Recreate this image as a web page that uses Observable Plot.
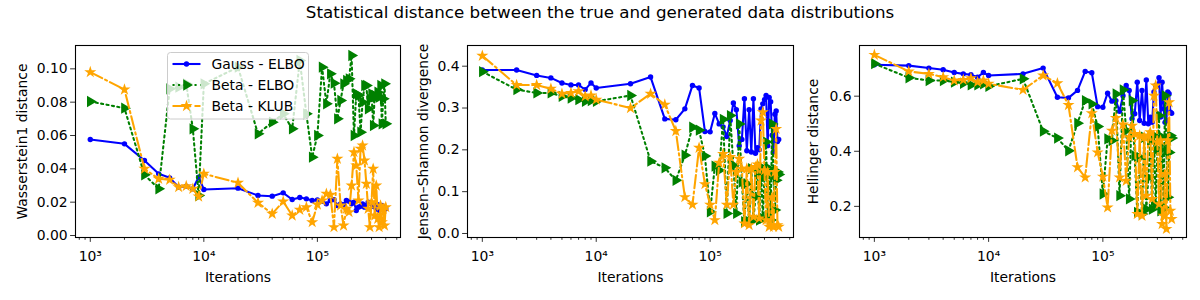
<!DOCTYPE html>
<html><head><meta charset="utf-8">
<script src="https://cdn.jsdelivr.net/npm/d3@7"></script>
<script src="https://cdn.jsdelivr.net/npm/@observablehq/plot@0.6"></script>
<style>
body{margin:0;background:#fff;}
#root{position:relative;width:1200px;height:300px;font-family:"DejaVu Sans",sans-serif;overflow:hidden;background:#fff;}
.title{position:absolute;top:0;left:0;width:1200px;text-align:center;font-size:16.7px;line-height:25px;color:#000;}
.panel{position:absolute;top:0;}
</style></head><body>
<div id="root"><div class="title">Statistical distance between the true and generated data distributions</div></div>
<script>
const title = "Statistical distance between the true and generated data distributions";
const seriesNames = ["Gauss - ELBO", "Beta - ELBO", "Beta - KLUB"];
const xLabel = "Iterations";
const yLabels = ["Wasserstein1 distance", "Jensen\u2013Shannon divergence", "Hellinger distance"];
const majorTicks = [1e3, 1e4, 1e5];
const majorTickLabels = ["10\u00b3", "10\u2074", "10\u2075"];
const yTicks1 = [0, 0.02, 0.04, 0.06, 0.08, 0.10];
const yTicks2 = [0, 0.1, 0.2, 0.3, 0.4];
const yTicks3 = [0.2, 0.4, 0.6];

const iterations = [1000,2000,3000,4000,5000,6000,7000,8000,9000,10000,
  20000,30000,40000,50000,60000,70000,80000,90000,100000,
  110000,120000,130000,140000,150000,160000,170000,180000,190000,200000,
  210000,220000,230000,240000,250000,260000,270000,280000,290000,300000,
  310000,320000,330000,340000,350000,360000,370000,380000,390000,400000];

const w1Gauss = [0.0576,0.055,0.045,0.037,0.0346,0.029,0.0296,0.028,0.035,0.0276,
  0.0284,0.024,0.0236,0.0256,0.0216,0.0228,0.022,0.021,0.0214,
  0.0205,0.019,0.021,0.0215,0.018,0.019,0.0185,0.021,0.0205,0.019,0.02,0.015,0.017,0.0175,0.019,0.017,0.018,0.02,0.0195,0.019,0.0175,0.018,0.016,0.0185,0.015,0.0175,0.018,0.016,0.017,0.016];
const w1BetaElbo = [0.0804,0.0764,0.0364,0.028,0.088,0.089,0.091,0.064,0.024,0.091,
  0.101,0.061,0.068,0.073,0.064,0.105,0.073,0.047,0.060,
  0.101,0.079,0.097,0.0914,0.070,0.081,0.091,0.093,0.094,0.108,0.060,0.085,0.084,0.062,0.080,0.090,0.090,0.076,0.082,0.085,0.066,0.084,0.083,0.086,0.083,0.090,0.067,0.082,0.091,0.067];
const w1BetaKlub = [0.098,0.0876,0.040,0.034,0.0334,0.029,0.0296,0.028,0.0234,0.037,
  0.0316,0.0196,0.013,0.0204,0.012,0.0154,0.017,0.008,0.0186,
  0.021,0.025,0.0245,0.005,0.046,0.018,0.006,0.016,0.014,0.03,0.05,0.042,0.021,0.052,0.054,0.045,0.031,0.016,0.005,0.02,0.04,0.012,0.03,0.01,0.005,0.018,0.008,0.016,0.006,0.017];

const jsGauss = [0.391,0.391,0.378,0.372,0.360,0.355,0.355,0.344,0.360,0.348,
  0.358,0.374,0.274,0.272,0.298,0.354,0.348,0.244,0.243,
  0.287,0.262,0.255,0.232,0.27,0.312,0.296,0.21,0.225,0.322,0.198,0.296,0.195,0.322,0.192,0.205,0.2,0.298,0.31,0.32,0.33,0.21,0.325,0.315,0.235,0.195,0.285,0.293,0.22,0.225];
const jsBetaElbo = [0.387,0.344,0.336,0.336,0.328,0.324,0.320,0.316,0.318,0.316,
  0.330,0.173,0.157,0.127,0.187,0.254,0.247,0.185,0.052,
  0.161,0.151,0.273,0.048,0.282,0.163,0.048,0.262,0.123,0.028,0.119,0.028,0.155,0.032,0.087,0.143,0.032,0.159,0.036,0.135,0.219,0.04,0.155,0.032,0.262,0.139,0.056,0.127,0.147,0.141];
const jsBetaKlub = [0.425,0.355,0.355,0.346,0.334,0.336,0.340,0.328,0.330,0.320,
  0.300,0.334,0.308,0.245,0.087,0.069,0.205,0.118,0.069,
  0.032,0.169,0.19,0.069,0.183,0.069,0.147,0.179,0.155,0.024,0.155,0.02,0.155,0.04,0.159,0.165,0.036,0.27,0.29,0.151,0.032,0.147,0.016,0.02,0.087,0.016,0.147,0.25,0.02,0.016];

const hGauss = [0.714,0.711,0.702,0.696,0.686,0.681,0.678,0.669,0.686,0.675,
  0.681,0.702,0.596,0.594,0.621,0.690,0.685,0.562,0.56,
  0.611,0.582,0.584,0.545,0.602,0.639,0.621,0.518,0.536,0.651,0.512,0.621,0.502,0.659,0.5,0.524,0.505,0.615,0.639,0.639,0.667,0.524,0.651,0.554,0.505,0.512,0.615,0.609,0.542,0.538];
const hBetaElbo = [0.718,0.667,0.657,0.657,0.651,0.647,0.641,0.641,0.645,0.636,
  0.663,0.473,0.448,0.402,0.502,0.584,0.572,0.49,0.245,
  0.445,0.439,0.608,0.239,0.623,0.475,0.227,0.584,0.384,0.178,0.378,0.172,0.451,0.19,0.305,0.439,0.19,0.457,0.208,0.408,0.53,0.184,0.451,0.196,0.602,0.402,0.233,0.396,0.457,0.448];
const hBetaKlub = [0.750,0.690,0.681,0.669,0.657,0.659,0.665,0.651,0.657,0.645,
  0.623,0.675,0.647,0.568,0.342,0.305,0.538,0.396,0.308,
  0.196,0.475,0.521,0.305,0.497,0.293,0.451,0.493,0.463,0.172,0.457,0.166,0.451,0.239,0.457,0.469,0.227,0.602,0.639,0.433,0.208,0.439,0.136,0.166,0.318,0.118,0.439,0.578,0.184,0.154];

const styles = [
  {color: "#0000ff", dash: null, symbol: "circle", r: 2.7, rotate: 0},
  {color: "#008000", dash: "2.1,3.4", symbol: "triangle", r: 4.2, rotate: 90},
  {color: "#ffa500", dash: "13.3,3.3,2.1,3.3", symbol: "star", r: 3.8, rotate: 0}
];

const xDomain = [741, 539500];
const minorTicks = [];
for (const dec of [100, 1000, 10000, 100000]) for (let k = 2; k <= 9; k++) {
  const v = k * dec; if (v > xDomain[0] && v < xDomain[1]) minorTicks.push(v);
}

function makePanel({left, width, marginLeft, marginRight, yDomain, yTicks, yFmt, yLabel, yLabelOffset, series}) {
  const marks = [
    Plot.axisX({ticks: minorTicks, tickSize: 2.8, text: null, label: null, strokeWidth: 0.8}),
    Plot.axisX({ticks: majorTicks, tickSize: 4.9, tickPadding: 9, strokeWidth: 0.8,
      tickFormat: d => majorTickLabels[majorTicks.indexOf(d)], label: null}),
    Plot.axisY({ticks: yTicks, tickSize: 4.9, tickPadding: 3, strokeWidth: 0.8, tickFormat: d3.format(yFmt), label: null}),
    Plot.text([xLabel], {frameAnchor: "bottom", dy: 40.5, text: d => d, lineAnchor: "middle", fontSize: 13.9}),
    Plot.text([yLabel], {frameAnchor: "left", dx: -yLabelOffset, text: d => d, rotate: -90, lineAnchor: "middle", textAnchor: "middle", fontSize: 13.9})
  ];
  series.forEach((vals, i) => {
    const s = styles[i];
    const rows = iterations.map((x, j) => ({x, y: vals[j]}));
    marks.push(Plot.line(rows, {x: "x", y: "y", stroke: s.color, strokeWidth: 2.08, strokeDasharray: s.dash, strokeLinejoin: "round"}));
    marks.push(Plot.dot(rows, {x: "x", y: "y", fill: s.color, stroke: "none", r: s.r, symbol: s.symbol, rotate: s.rotate}));
  });
  marks.push(Plot.frame({stroke: "black", strokeWidth: 1.1}));
  const chart = Plot.plot({
    width, height: 300, marginTop: 45, marginBottom: 63, marginLeft, marginRight,
    style: {fontFamily: "DejaVu Sans", fontSize: "13.9px", background: "transparent", color: "black", overflow: "visible"},
    x: {type: "log", domain: xDomain},
    y: {domain: yDomain},
    marks
  });
  chart.classList.add("panel");
  chart.style.left = left + "px";
  chart.style.position = "absolute";
  chart.style.top = "0px";
  document.getElementById("root").appendChild(chart);
}

makePanel({left: 0, width: 405, marginLeft: 75, marginRight: 5, yDomain: [-0.0012, 0.114], yTicks: yTicks1, yFmt: ".2f",
  yLabel: yLabels[0], yLabelOffset: 53, series: [w1Gauss, w1BetaElbo, w1BetaKlub]});
makePanel({left: 405, width: 400, marginLeft: 62, marginRight: 12, yDomain: [-0.0096, 0.4495], yTicks: yTicks2, yFmt: ".1f",
  yLabel: yLabels[1], yLabelOffset: 44, series: [jsGauss, jsBetaElbo, jsBetaKlub]});
makePanel({left: 805, width: 395, marginLeft: 54, marginRight: 14, yDomain: [0.087, 0.784], yTicks: yTicks3, yFmt: ".1f",
  yLabel: yLabels[2], yLabelOffset: 46, series: [hGauss, hBetaElbo, hBetaKlub]});

// Legend (panel 1), drawn on top like matplotlib's legend
const leg = d3.select("#root").append("svg").attr("width", 1200).attr("height", 300)
  .style("position", "absolute").style("left", "0px").style("top", "0px").style("pointer-events", "none");
leg.append("rect").attr("x", 167.5).attr("y", 52.5).attr("width", 141).attr("height", 66.5).attr("rx", 3)
  .attr("fill", "white").attr("fill-opacity", 0.8).attr("stroke", "#cccccc").attr("stroke-width", 1);
const symMap = {circle: d3.symbolCircle, triangle: d3.symbolTriangle, star: d3.symbolStar};
seriesNames.forEach((name, i) => {
  const s = styles[i];
  const cy = 64 + i * 21;
  leg.append("line").attr("x1", 172.5).attr("x2", 200.5).attr("y1", cy).attr("y2", cy)
    .attr("stroke", s.color).attr("stroke-width", 2.08).attr("stroke-dasharray", s.dash);
  leg.append("path").attr("d", d3.symbol(symMap[s.symbol], Math.PI * s.r * s.r)())
    .attr("transform", `translate(186.5,${cy}) rotate(${s.rotate})`).attr("fill", s.color);
  leg.append("text").attr("x", 211.5).attr("y", cy).attr("dy", "0.35em").attr("font-size", 13.9)
    .attr("font-family", "DejaVu Sans").text(name);
});
</script>
</body></html>
